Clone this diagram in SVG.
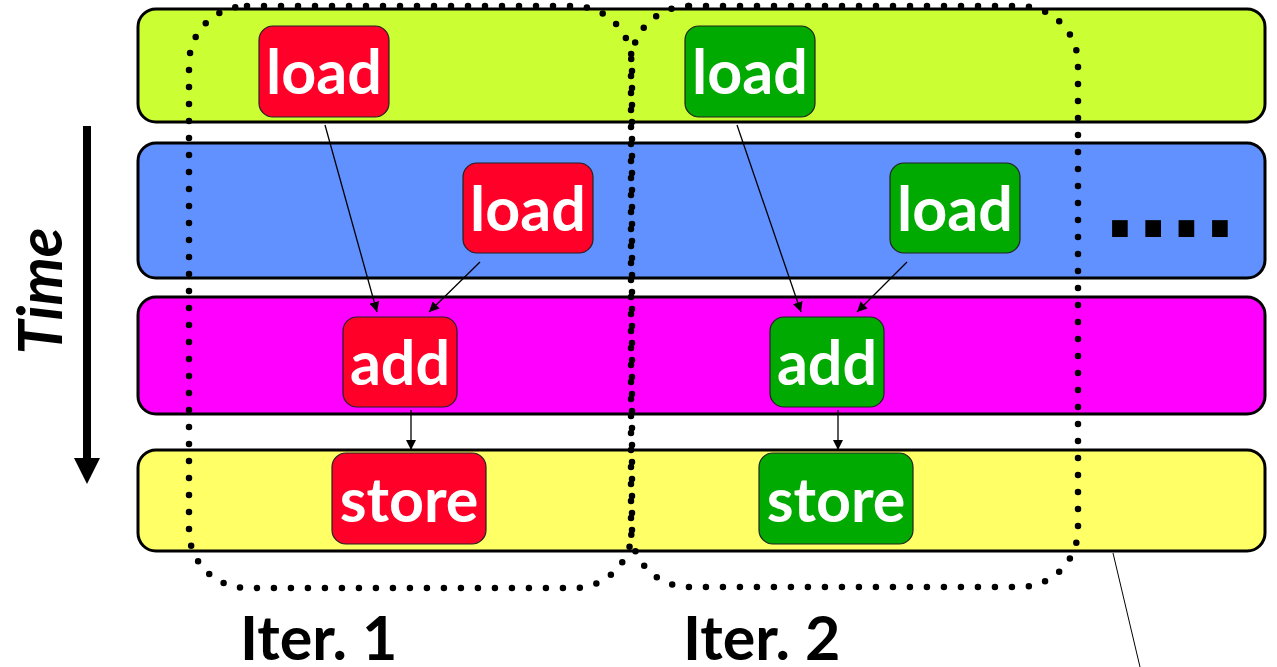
<svg xmlns="http://www.w3.org/2000/svg" width="1277" height="667" viewBox="0 0 1277 667">
  <style>
    .lane { stroke: #000; stroke-width: 3; }
    .op { stroke: #222; stroke-width: 1.2; }
    .red { fill: #FF0028; }
    .green { fill: #00AA00; }
    .oplabel { font-family: Lato, "Open Sans", sans-serif; font-weight: bold; font-size: 61px; fill: #fff; text-anchor: middle; }
    .iter { font-family: Lato, "Open Sans", sans-serif; font-weight: bold; font-size: 61px; fill: #000; }
    .dotted { fill: none; stroke: #000; stroke-width: 6.5; stroke-linecap: round; stroke-dasharray: 0 17; }
    .edge { stroke: #000; stroke-width: 1.3; fill: none; marker-end: url(#arrow); }
  </style>
  <defs>
    <marker id="arrow" viewBox="0 0 10 10" refX="10" refY="5" markerWidth="10" markerHeight="10" markerUnits="userSpaceOnUse" orient="auto">
      <path d="M0,0 L10,5 L0,10 z" fill="#000"/>
    </marker>
    <marker id="bigarrow" viewBox="0 0 10 10" refX="0" refY="5" markerWidth="26" markerHeight="26" markerUnits="userSpaceOnUse" orient="auto">
      <path d="M0,0 L10,5 L0,10 z" fill="#000"/>
    </marker>
  </defs>

  <rect width="1277" height="667" fill="#fff"/>

  <!-- pipeline stages -->
  <g id="stage-1"><rect class="lane" x="138" y="9" width="1127" height="113" rx="18" fill="#CCFF33"/></g>
  <g id="stage-2"><rect class="lane" x="138" y="143" width="1127" height="135" rx="18" fill="#6190FF"/></g>
  <g id="stage-3"><rect class="lane" x="138" y="297" width="1127" height="117" rx="18" fill="#FF00FF"/></g>
  <g id="stage-4"><rect class="lane" x="138" y="450" width="1127" height="101" rx="18" fill="#FFFF66"/></g>

  <!-- time axis -->
  <g id="time-axis">
    <line x1="87" y1="126" x2="87" y2="458" stroke="#000" stroke-width="8" marker-end="url(#bigarrow)"/>
    <text transform="translate(62,291) rotate(-90)" font-family="Lato, 'Open Sans', sans-serif" font-weight="bold" font-style="italic" font-size="61" text-anchor="middle" fill="#000">Time</text>
  </g>

  <!-- iteration 1 -->
  <g id="iter1-load-a"><rect class="op red" x="259" y="26" width="130" height="91" rx="14"/><text class="oplabel" x="324" y="94">load</text></g>
  <g id="iter1-load-b"><rect class="op red" x="463" y="163" width="130" height="90" rx="14"/><text class="oplabel" x="528" y="231">load</text></g>
  <g id="iter1-add"><rect class="op red" x="343" y="317" width="114" height="90" rx="14"/><text class="oplabel" x="400" y="385">add</text></g>
  <g id="iter1-store"><rect class="op red" x="332" y="453" width="154" height="91" rx="14"/><text class="oplabel" x="409" y="522">store</text></g>

  <!-- iteration 2 -->
  <g id="iter2-load-a"><rect class="op green" x="685" y="26" width="130" height="91" rx="14"/><text class="oplabel" x="750" y="94">load</text></g>
  <g id="iter2-load-b"><rect class="op green" x="890" y="163" width="130" height="90" rx="14"/><text class="oplabel" x="955" y="231">load</text></g>
  <g id="iter2-add"><rect class="op green" x="770" y="317" width="114" height="90" rx="14"/><text class="oplabel" x="827" y="385">add</text></g>
  <g id="iter2-store"><rect class="op green" x="759" y="453" width="154" height="91" rx="14"/><text class="oplabel" x="836" y="522">store</text></g>

  <!-- continuation -->
  <g id="more"><text x="1103" y="237" font-family="'DejaVu Sans', sans-serif" font-weight="bold" font-size="89" letter-spacing="-0.5" fill="#000">....</text></g>

  <!-- iteration groupings -->
  <g id="iter1-group">
    <rect class="dotted" x="189" y="6" width="443" height="582" rx="58"/>
    <text class="iter" x="240" y="660">Iter. 1</text>
  </g>
  <g id="iter2-group">
    <rect class="dotted" x="631" y="6" width="447" height="581" rx="58"/>
    <text class="iter" x="683" y="660">Iter. 2</text>
  </g>

  <!-- dependencies -->
  <g id="connectors">
    <line class="edge" x1="325" y1="125" x2="377" y2="312"/>
    <line class="edge" x1="480" y1="262" x2="429" y2="312"/>
    <line class="edge" x1="411" y1="410" x2="411" y2="450"/>
    <line class="edge" x1="737" y1="125" x2="801" y2="312"/>
    <line class="edge" x1="907" y1="262" x2="857" y2="312"/>
    <line class="edge" x1="838" y1="410" x2="838" y2="450"/>
    <line x1="1113" y1="553" x2="1140" y2="667" stroke="#000" stroke-width="1"/>
  </g>
</svg>
